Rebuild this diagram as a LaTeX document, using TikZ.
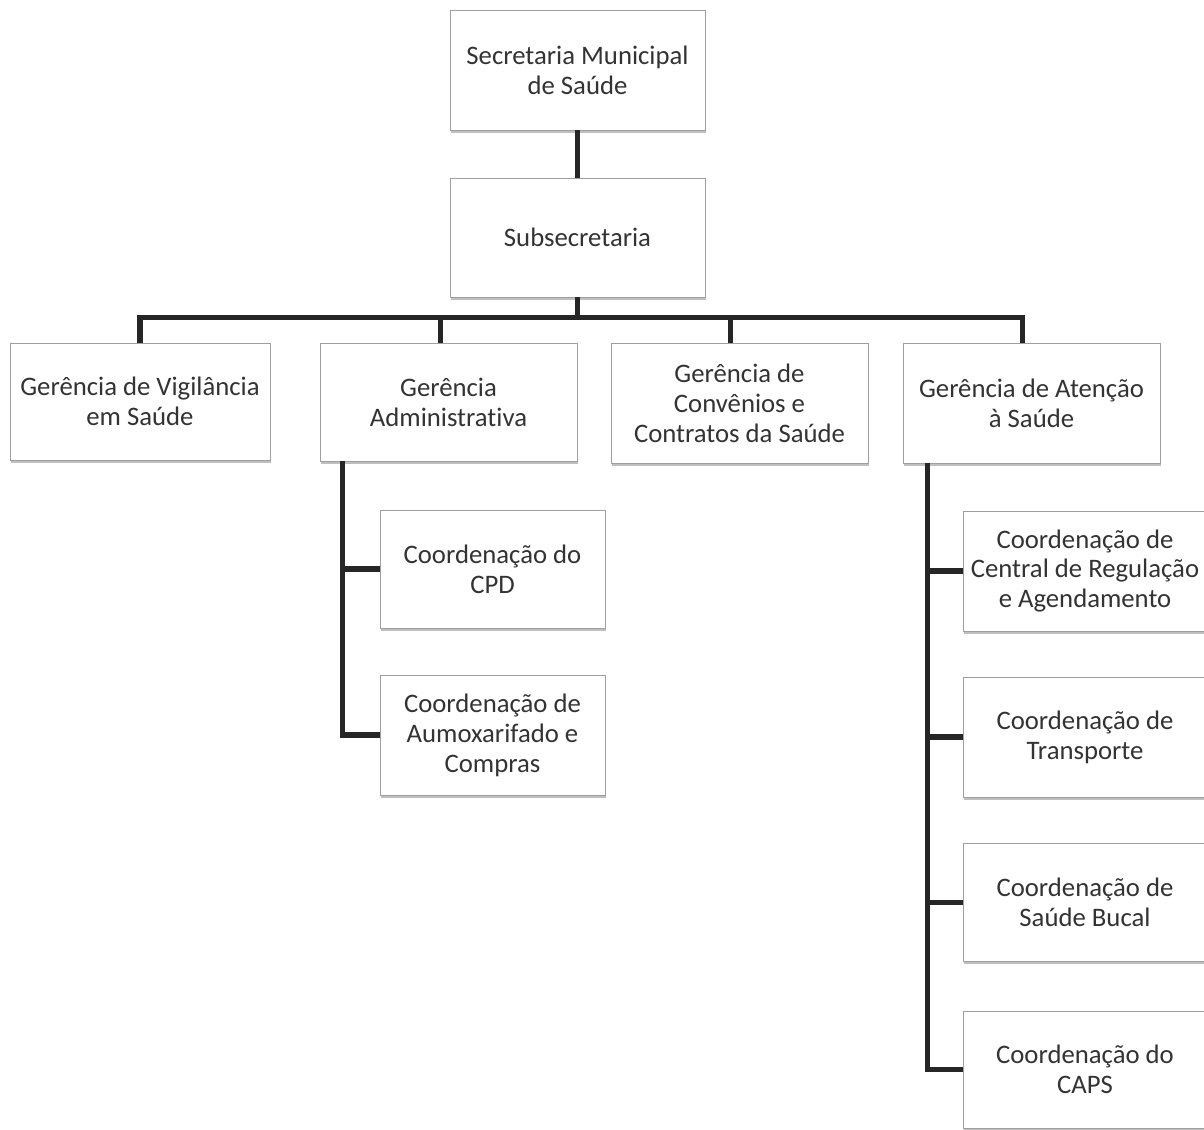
\documentclass[tikz,border=0pt]{standalone}
\usepackage{fontspec}
\setmainfont{Carlito}[Ligatures=NoCommon]
\usetikzlibrary{shadows}

\tikzset{
  box/.style={draw=gray!75, line width=0.6pt, fill=white, align=center,
    inner sep=2pt, text=black!80, font=\fontsize{19}{21.3}\selectfont,
    drop shadow={shadow xshift=0.6pt, shadow yshift=-1.8pt, opacity=0.5}},
  topbox/.style={box, minimum width=6.375cm, minimum height=3cm},
  gerbox/.style={box, minimum width=6.425cm, minimum height=2.95cm},
  admbox/.style={box, minimum width=5.625cm, minimum height=2.95cm},
  atnbox/.style={box, minimum width=6.1cm, minimum height=2.95cm},
  link/.style={line width=3.6pt, black!85}
}

\begin{document}
\begin{tikzpicture}[x=0.025cm, y=-0.025cm]
    \clip (0,0) rectangle (1204,1130);
    \fill[white] (0,0) rectangle (1204,1130);

    % Top of the tree
    \node[topbox] (sec) at (577.5,70) {Secretaria Municipal\\de Saúde};
    \node[topbox, minimum height=2.975cm] (sub) at (577.5,237.5) {Subsecretaria};

    % Gerências
    \node[gerbox, minimum width=6.5cm, minimum height=2.925cm] (vig) at (140,401.5) {Gerência de Vigilância\\em Saúde};
    \node[gerbox] (adm) at (448.5,402) {Gerência\\Administrativa};
    \node[gerbox, minimum height=3cm] (conv) at (739.5,403) {Gerência de\\Convênios e\\Contratos da Saúde};
    \node[gerbox, minimum height=3cm] (aten) at (1031.5,403) {Gerência de Atenção\\à Saúde};

    % Coordenações of Gerência Administrativa
    \node[admbox] (cpd) at (492.5,569) {Coordenação do\\CPD};
    \node[admbox, minimum height=3cm] (aum) at (492.5,735) {Coordenação de\\Aumoxarifado e\\Compras};

    % Coordenações of Gerência de Atenção
    \node[atnbox, minimum height=3cm] (reg) at (1085,571) {Coordenação de\\Central de Regulação\\e Agendamento};
    \node[atnbox, minimum height=3cm] (tra) at (1085,737) {Coordenação de\\Transporte};
    \node[atnbox] (buc) at (1085,902.5) {Coordenação de\\Saúde Bucal};
    \node[atnbox, minimum height=2.925cm] (caps) at (1085,1069.5) {Coordenação do\\CAPS};

    % Connectors
    \draw[link] (sec.south) -- (sub.north);
    \coordinate (bus) at ([shift={(0,20)}]sub.south);
    \draw[link] (sub.south) -- (bus);
    \draw[link] (bus) -| (vig.north);
    \draw[link] (bus) -| ([shift={(-8,0)}]adm.north);
    \draw[link] (bus) -| ([shift={(-9,0)}]conv.north);
    \draw[link] (bus) -| ([shift={(-9,0)}]aten.north);

    \coordinate (admspine) at ([shift={(23,0)}]adm.south west);
    \draw[link] (admspine) |- (aum.west);
    \draw[link] (admspine |- cpd.west) -- (cpd.west);

    \coordinate (atnspine) at ([shift={(25,0)}]aten.south west);
    \draw[link] (atnspine) |- (caps.west);
    \foreach \c in {reg,tra,buc} {
        \draw[link] (atnspine |- \c.west) -- (\c.west);
    }
\end{tikzpicture}
\end{document}
